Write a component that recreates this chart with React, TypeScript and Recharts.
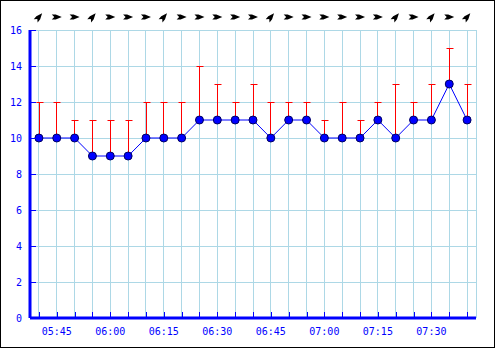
import {
  ComposedChart,
  Line,
  Bar,
  XAxis,
  YAxis,
  CartesianGrid,
} from "recharts";

// time of each reading (5 min apart)
const times = [
  "05:40", "05:45", "05:50", "05:55", "06:00", "06:05", "06:10", "06:15", "06:20",
  "06:25", "06:30", "06:35", "06:40", "06:45", "06:50", "06:55", "07:00", "07:05",
  "07:10", "07:15", "07:20", "07:25", "07:30", "07:35", "07:40",
];

// average wind speed
const speed = [10, 10, 10, 9, 9, 9, 10, 10, 10, 11, 11, 11, 11, 10, 11, 11, 10, 10, 10, 11, 10, 11, 11, 13, 11];

// gust speed (red bars)
const gust = [12, 12, 11, 11, 11, 11, 12, 12, 12, 14, 13, 12, 13, 12, 12, 12, 11, 12, 11, 12, 13, 12, 13, 15, 13];

// arrow heading in degrees (90 = pointing right, 40 = up-right)
const heading = [40, 90, 90, 40, 90, 90, 90, 40, 90, 90, 90, 90, 90, 40, 90, 90, 90, 90, 90, 90, 40, 90, 40, 90, 40];

const yTicks = [0, 2, 4, 6, 8, 10, 12, 14, 16];

const data = times.map((t, i) => ({
  i,
  t,
  speed: speed[i],
  range: [speed[i], gust[i]],
}));
const xTicks = data.map((d) => d.i);

const BLUE = "#0000ff";
const FONT = "'DejaVu Sans Mono', monospace";

const BottomTick = (props: any) => {
  const { x, y, payload } = props;
  const label = times[payload.value];
  const show = label && /:(00|15|30|45)$/.test(label);
  const cx = Math.round(x) + 0.5;
  return (
    <g>
      <line x1={cx} y1={y - 1} x2={cx} y2={y - 6} stroke={BLUE} strokeWidth={1} />
      {show && (
        <text x={x} y={y + 17} textAnchor="middle" fill={BLUE} fontSize={10} fontFamily={FONT}>
          {label}
        </text>
      )}
    </g>
  );
};

const LeftTick = (props: any) => {
  const { x, y, payload } = props;
  const cy = Math.round(y) + 0.5;
  return (
    <g>
      <line x1={x + 1} y1={cy} x2={x + 6} y2={cy} stroke={BLUE} strokeWidth={1} />
      <text x={x - 8} y={y + 4} textAnchor="end" fill={BLUE} fontSize={10} fontFamily={FONT}>
        {payload.value}
      </text>
    </g>
  );
};

const ArrowTick = (props: any) => {
  const { x, y, payload } = props;
  const rot = heading[payload.value] - 90;
  return (
    <g transform={`translate(${x},${y}) rotate(${rot})`}>
      <path d="M5,0 L-1,-2.5 L-5,-2.5 L-2.5,0 L-5,2.5 L-1,2.5 Z" fill="#000" />
    </g>
  );
};

// gust whisker: red line from speed up to gust, with a cap on top
const GustShape = (props: any) => {
  const { x, y, width, height } = props;
  const cx = Math.round(x + width / 2) + 0.5;
  const top = Math.round(y) + 0.5;
  return (
    <g>
      <line x1={cx} y1={top} x2={cx} y2={y + height} stroke="#ff0000" strokeWidth={1} />
      <line x1={cx - 3} y1={top} x2={cx + 4} y2={top} stroke="#ff0000" strokeWidth={1} />
    </g>
  );
};

export default function App() {
  return (
    <div style={{ position: "absolute", left: 0, top: 0, width: 495, height: 348, background: "#fff" }}>
      <ComposedChart
        width={495}
        height={348}
        data={data}
        margin={{ top: 0, right: 19, bottom: 0, left: 0 }}
      >
        <CartesianGrid stroke="#add8e6" strokeWidth={1} shapeRendering="crispEdges" />
        <XAxis
          dataKey="i"
          type="number"
          domain={[-0.5, 24.5]}
          ticks={xTicks}
          interval={0}
          height={30}
          axisLine={{ stroke: BLUE, strokeWidth: 3 }}
          tickLine={false}
          tickSize={0}
          tickMargin={0}
          tick={BottomTick}
        />
        <XAxis
          xAxisId="top"
          orientation="top"
          dataKey="i"
          type="number"
          domain={[-0.5, 24.5]}
          ticks={xTicks}
          interval={0}
          height={30}
          axisLine={false}
          tickLine={false}
          tickSize={0}
          tickMargin={0}
          tick={(p: any) => <ArrowTick {...p} y={17} />}
        />
        <YAxis
          type="number"
          domain={[0, 16]}
          ticks={yTicks}
          interval={0}
          width={30}
          axisLine={{ stroke: BLUE, strokeWidth: 3 }}
          tickLine={false}
          tickSize={0}
          tickMargin={0}
          tick={LeftTick}
        />
        <Bar dataKey="range" barSize={7} shape={GustShape} isAnimationActive={false} />
        <Line
          dataKey="speed"
          stroke={BLUE}
          strokeWidth={1}
          isAnimationActive={false}
          dot={{ r: 4, fill: BLUE, stroke: "#000060", strokeWidth: 1 }}
          activeDot={false}
        />
      </ComposedChart>
      <div
        style={{
          position: "absolute",
          left: 0,
          top: 0,
          width: 495,
          height: 348,
          boxSizing: "border-box",
          border: "1px solid #000",
          pointerEvents: "none",
        }}
      />
    </div>
  );
}
